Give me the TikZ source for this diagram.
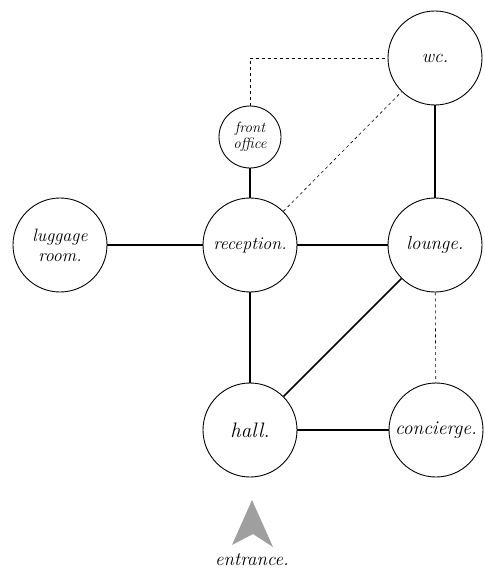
\documentclass[tikz,border=0pt]{standalone}
\usepackage{amsmath,amssymb}
\usepackage{fontspec}
\usepackage{tikz}
\usepackage{xcolor}

\tikzset{
  room/.style={draw,circle,line width=0.9pt,minimum size=94bp,inner sep=0pt,align=center,font=\fontsize{18}{20}\selectfont\itshape},
  smallroom/.style={room,minimum size=62bp,font=\fontsize{15}{16}\selectfont\itshape},
  link/.style={line width=2.2pt},
  weak/.style={dashed,line width=0.6pt}
}

\begin{document}
\begin{tikzpicture}[x=1bp,y=-1bp]
        \useasboundingbox (0,0) rectangle (485,569);
        % rooms
        \node[room,font=\fontsize{19}{20}\selectfont\itshape] (wc) at (435,58) {wc.};
        \node[smallroom] (front) at (250,137) {front\\office};
        \node[room] (luggage) at (60,245) {luggage\\room.};
        \node[room] (reception) at (250,245) {reception.};
        \node[room,font=\fontsize{19}{20}\selectfont\itshape] (lounge) at (435,245) {lounge.};
        \node[room,font=\fontsize{21}{22}\selectfont\itshape] (hall) at (250,430) {hall.};
        \node[room,font=\fontsize{19.5}{20}\selectfont\itshape] (concierge) at (436,430) {concierge.};
        % links
        \draw[link] (front) -- (reception);
        \draw[link] (wc) -- (lounge);
        \draw[link] (luggage) -- (reception);
        \draw[link] (reception) -- (lounge);
        \draw[line width=1.6pt] (reception) -- (hall);
        \draw[line width=1.6pt] (lounge) -- (hall);
        \draw[link] (hall) -- (concierge);
        \draw[weak] (lounge) -- (concierge);
        \draw[weak] (reception) -- (wc);
        \draw[weak] (front.north) |- (wc.west);
        % entrance
        \fill[gray!75] (252,500) -- (273,547) -- (253,534) -- (232,545) -- cycle;
        \node[font=\fontsize{19}{20}\selectfont\itshape] (entrance) at (252,560) {entrance.};
      \end{tikzpicture}
\end{document}
